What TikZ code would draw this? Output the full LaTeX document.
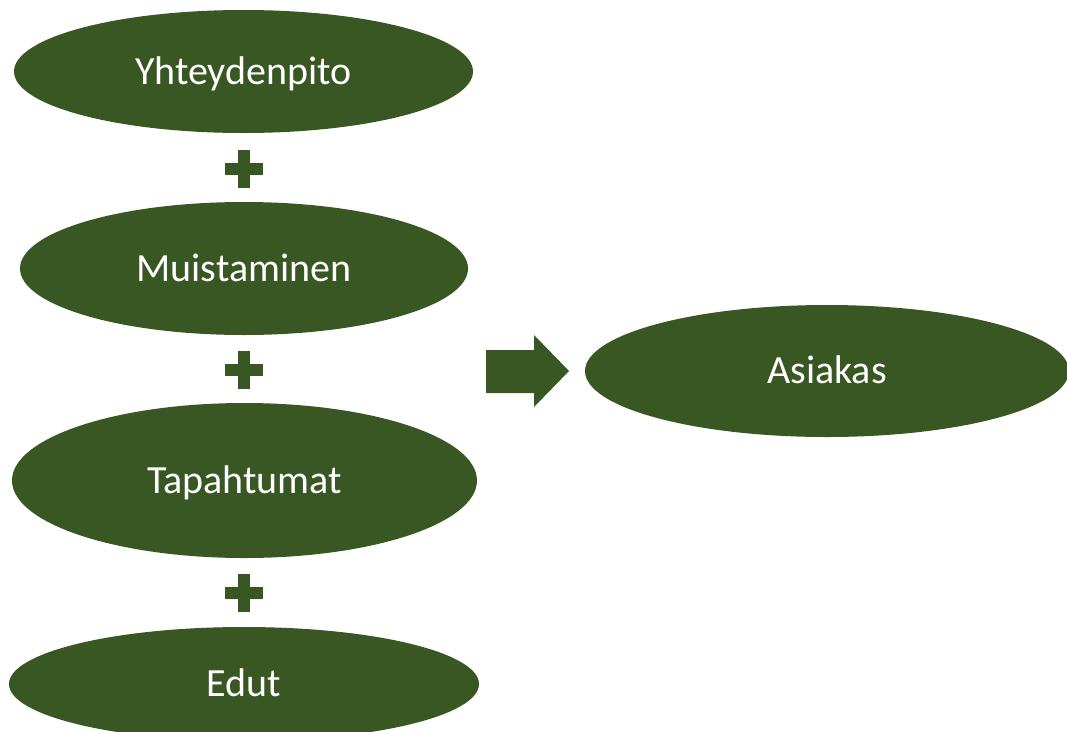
\documentclass[tikz,border=0pt]{standalone}
\usepackage{fontspec}
\setmainfont{Carlito}
\usetikzlibrary{shapes.geometric,calc}
\definecolor{leaf}{HTML}{385723}
\tikzset{
  oval/.style={ellipse, fill=leaf, draw=none, inner sep=0pt, text=white,
    font=\fontsize{40}{40}\selectfont, text height=25.5pt, text depth=0pt},
  plus/.style={fill=leaf},
}
\newcommand{\plussign}[1]{%
  \fill[plus] ($(#1)+(-19,-6)$) rectangle ($(#1)+(19,6)$);
  \fill[plus] ($(#1)+(-6,-19)$) rectangle ($(#1)+(6,19)$);
}
\begin{document}
\begin{tikzpicture}[x=1pt,y=-1pt]
  \useasboundingbox (0,0) rectangle (1067,731);
  \clip (0,0) rectangle (1067,731);

  % left column of ovals
  \node[oval, minimum width=459, minimum height=123] (yht) at (243.5,71.5) {Yhteydenpito};
  \node[oval, minimum width=448, minimum height=133] (mui) at (244,268.5) {Muistaminen};
  \node[oval, minimum width=465, minimum height=155] (tap) at (244.5,480.5) {Tapahtumat};
  \node[oval, minimum width=470, minimum height=114] (edu) at (244,684) {Edut};

  % result oval
  \node[oval, minimum width=484, minimum height=132] (asi) at (827,371) {Asiakas};

  % plus signs between the ovals
  \coordinate (p1) at (244,168.5);
  \coordinate (p2) at (244,369.5);
  \coordinate (p3) at (244,593);
  \plussign{p1}
  \plussign{p2}
  \plussign{p3}

  % block arrow pointing to the result
  \fill[leaf] (486,350) -- (534,350) -- (534,335) -- (569,371)
    -- (534,407) -- (534,393) -- (486,393) -- cycle;
\end{tikzpicture}
\end{document}
